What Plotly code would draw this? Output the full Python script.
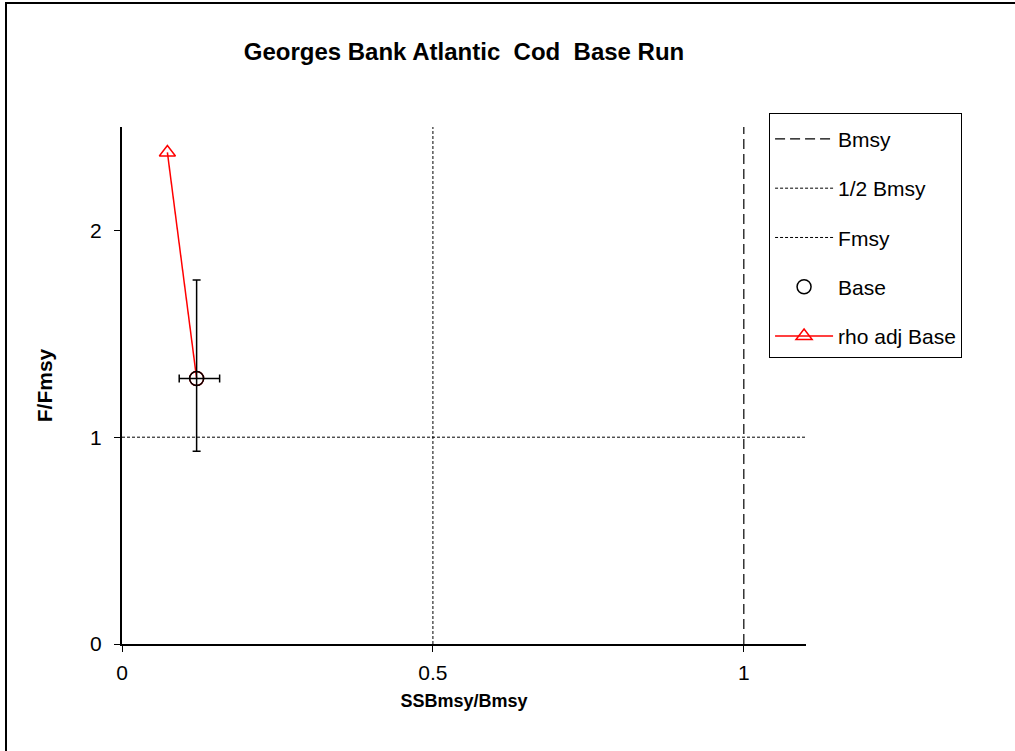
import plotly.graph_objects as go

# reference points (SSB/Bmsy, F/Fmsy)
base_x = [0.12]
base_y = [1.284]
base_x_lo = [0.092]
base_x_hi = [0.157]
base_y_lo = [0.932]
base_y_hi = [1.76]

rho_x = [0.073, 0.12]
rho_y = [2.377, 1.284]

bmsy_x = [1, 1]
half_bmsy_x = [0.5, 0.5]
vert_y = [0, 2.5]
fmsy_x = [0, 1.1]
fmsy_y = [1, 1]

font = "Arial, Liberation Sans, sans-serif"

fig = go.Figure()

fig.add_trace(go.Scatter(
    x=bmsy_x, y=vert_y, mode="lines", name="Bmsy", legendrank=1,
    legendgroup="a",
    line=dict(color="black", width=1.2, dash="10px,5px")
))
fig.add_trace(go.Scatter(
    x=half_bmsy_x, y=vert_y, mode="lines", name="1/2 Bmsy", legendrank=2,
    legendgroup="b",
    line=dict(color="black", width=1, dash="3px,2px")
))
fig.add_trace(go.Scatter(
    x=fmsy_x, y=fmsy_y, mode="lines", name="Fmsy", legendrank=3,
    legendgroup="c",
    line=dict(color="black", width=1, dash="3px,2px")
))
# red line runs from the rho-adjusted point down to the base point
fig.add_trace(go.Scatter(
    x=rho_x, y=rho_y, mode="lines+markers", name="rho adj Base", legendrank=5,
    legendgroup="e",
    line=dict(color="red", width=1.5),
    marker=dict(symbol=["triangle-up-open", "circle-open"], size=14,
                color="red", line=dict(color="red", width=1.5))
))
fig.add_trace(go.Scatter(
    x=base_x, y=base_y, mode="markers", name="Base", legendrank=4,
    legendgroup="d",
    marker=dict(symbol="circle-open", size=14, color="black",
                line=dict(color="black", width=1.5)),
    error_x=dict(type="data", symmetric=False,
                 array=[h - x for h, x in zip(base_x_hi, base_x)],
                 arrayminus=[x - l for l, x in zip(base_x_lo, base_x)],
                 color="black", thickness=1.5, width=4),
    error_y=dict(type="data", symmetric=False,
                 array=[h - y for h, y in zip(base_y_hi, base_y)],
                 arrayminus=[y - l for l, y in zip(base_y_lo, base_y)],
                 color="black", thickness=1.5, width=4)
))

fig.update_layout(
    width=1015, height=751,
    margin=dict(l=122, r=209, t=127, b=107),
    paper_bgcolor="white", plot_bgcolor="white",
    font=dict(family=font, size=20, color="black"),
    title=dict(text="<b>Georges Bank Atlantic  Cod  Base Run</b>",
               x=0.5, xref="paper", xanchor="center",
               y=1 - 52 / 751, yref="container", yanchor="middle",
               font=dict(size=24)),
    showlegend=True,
    legend=dict(x=0.946, y=1.028, xanchor="left", yanchor="top",
                bordercolor="black", borderwidth=1, bgcolor="white",
                font=dict(size=21), traceorder="grouped", tracegroupgap=19,
                itemwidth=58,
                title=dict(text=" ", font=dict(size=4))),
    shapes=[dict(type="rect", xref="paper", yref="paper",
                 x0=(6 - 122) / 684, x1=1.5, y0=-0.5, y1=(644 - 3) / 517,
                 line=dict(color="black", width=2), layer="below")],
)

fig.update_xaxes(
    range=[0, 1.1], tickvals=[0, 0.5, 1], ticktext=["0", "0.5", "1"],
    showgrid=False, zeroline=False, showline=True, linecolor="black",
    linewidth=2, ticks="outside", ticklen=6, tickcolor="black",
    tickfont=dict(size=21), ticklabelstandoff=3,
    title=dict(text="<b>SSBmsy/Bmsy</b>", font=dict(size=18), standoff=11)
)
fig.update_yaxes(
    range=[0, 2.5], tickvals=[0, 1, 2],
    showgrid=False, zeroline=False, showline=True, linecolor="black",
    linewidth=2, ticks="outside", ticklen=6, tickcolor="black",
    tickfont=dict(size=21), ticklabelstandoff=8,
    title=dict(text="<b>F/Fmsy</b>", font=dict(size=21), standoff=32)
)

# drop the default page margin so the figure sits at the window origin
fig.write_html("out.html", config={"displayModeBar": False},
               post_script="document.body.style.margin='0';")
